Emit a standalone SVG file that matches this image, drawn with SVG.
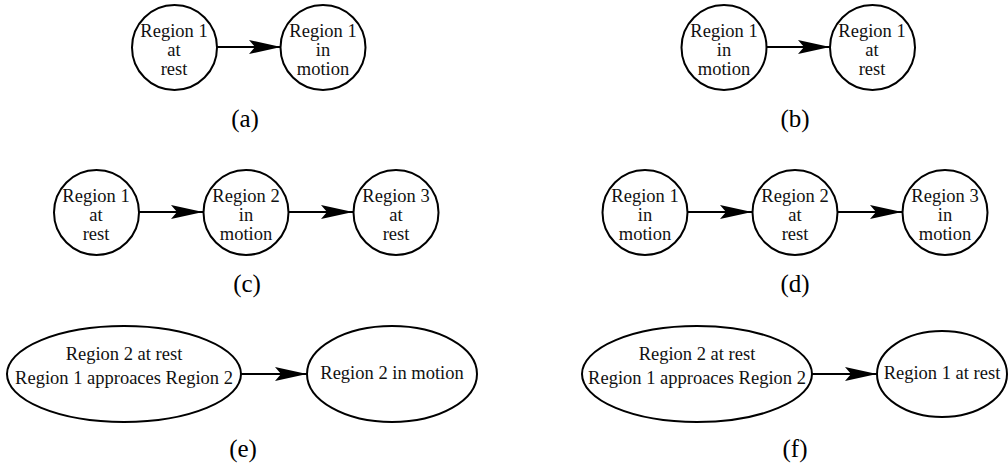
<svg xmlns="http://www.w3.org/2000/svg" width="1008" height="470" viewBox="0 0 1008 470">
<defs>
<marker id="ah" markerWidth="34" markerHeight="16" refX="32" refY="8" orient="auto" markerUnits="userSpaceOnUse">
<path d="M0,1 L32,8 L0,15 L6,8 Z" fill="#000"/>
</marker>
</defs>
<style>
.n{fill:#fff;stroke:#000;stroke-width:2}
.c{stroke:#000;stroke-width:2;fill:none;marker-end:url(#ah)}
text{font-family:'Liberation Serif','Times New Roman',serif;text-anchor:middle}
</style>
<rect width="1008" height="470" fill="#fff"/>
<g id="connectors">
<line class="c" x1="217" y1="47" x2="281" y2="47"/>
<line class="c" x1="767" y1="47" x2="830" y2="47"/>
<line class="c" x1="138" y1="212" x2="203" y2="212"/>
<line class="c" x1="288" y1="212" x2="353" y2="212"/>
<line class="c" x1="687" y1="212" x2="752" y2="212"/>
<line class="c" x1="837" y1="212" x2="902" y2="212"/>
<line class="c" x1="241" y1="374" x2="307" y2="374"/>
<line class="c" x1="812" y1="374" x2="877" y2="374"/>
</g>
<g font-size="18.5" fill="#111">
<g id="a1"><circle class="n" cx="174.5" cy="47.5" r="42.5"/><text x="174" y="37">Region 1</text><text x="174" y="56">at</text><text x="174" y="75">rest</text></g>
<g id="a2"><circle class="n" cx="323" cy="47.5" r="42.5"/><text x="323" y="37">Region 1</text><text x="323" y="56">in</text><text x="323" y="75">motion</text></g>
<g id="b1"><circle class="n" cx="724" cy="47.5" r="42.5"/><text x="724" y="37">Region 1</text><text x="724" y="56">in</text><text x="724" y="75">motion</text></g>
<g id="b2"><circle class="n" cx="872.5" cy="47.5" r="42.5"/><text x="872" y="37">Region 1</text><text x="872" y="56">at</text><text x="872" y="75">rest</text></g>
<g id="c1"><circle class="n" cx="96.5" cy="212.5" r="42.5"/><text x="96" y="202">Region 1</text><text x="96" y="221">at</text><text x="96" y="240">rest</text></g>
<g id="c2"><circle class="n" cx="246" cy="212.5" r="42.5"/><text x="246" y="202">Region 2</text><text x="246" y="221">in</text><text x="246" y="240">motion</text></g>
<g id="c3"><circle class="n" cx="396" cy="212.5" r="42.5"/><text x="396" y="202">Region 3</text><text x="396" y="221">at</text><text x="396" y="240">rest</text></g>
<g id="d1"><circle class="n" cx="645" cy="212.5" r="42.5"/><text x="645" y="202">Region 1</text><text x="645" y="221">in</text><text x="645" y="240">motion</text></g>
<g id="d2"><circle class="n" cx="795" cy="212.5" r="42.5"/><text x="795" y="202">Region 2</text><text x="795" y="221">at</text><text x="795" y="240">rest</text></g>
<g id="d3"><circle class="n" cx="945" cy="212.5" r="42.5"/><text x="945" y="202">Region 3</text><text x="945" y="221">in</text><text x="945" y="240">motion</text></g>
<g id="e1"><ellipse class="n" cx="124" cy="374" rx="117" ry="48"/><text x="124" y="360">Region 2 at rest</text><text x="124" y="384">Region 1 approaces Region 2</text></g>
<g id="e2"><ellipse class="n" cx="392" cy="374" rx="85" ry="48"/><text x="392" y="379">Region 2 in motion</text></g>
<g id="f1"><ellipse class="n" cx="697" cy="374" rx="115" ry="48"/><text x="697" y="360">Region 2 at rest</text><text x="697" y="384">Region 1 approaces Region 2</text></g>
<g id="f2"><ellipse class="n" cx="942" cy="374" rx="65" ry="43"/><text x="942" y="379">Region 1 at rest</text></g>
</g>
<g id="labels" font-size="25" fill="#000">
<text x="245" y="127">(a)</text>
<text x="795" y="127">(b)</text>
<text x="247" y="292">(c)</text>
<text x="795" y="292">(d)</text>
<text x="243" y="457">(e)</text>
<text x="795" y="457">(f)</text>
</g>
</svg>
